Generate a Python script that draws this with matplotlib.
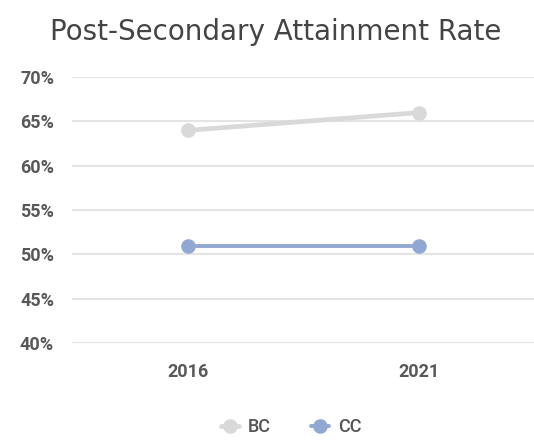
import matplotlib
matplotlib.use("Agg")
import matplotlib.pyplot as plt
from matplotlib.ticker import FuncFormatter

years = ["2016", "2021"]
bc_rate = [64, 66]
cc_rate = [51, 51]
y_ticks = [40, 45, 50, 55, 60, 65, 70]

fig = plt.figure(figsize=(5.34, 4.41), dpi=100)
ax = fig.add_axes([0.135, 0.222, 0.865, 0.603])

x = list(range(len(years)))
ax.plot(x, bc_rate, color="#d9d9d9", lw=3.4, marker="o", ms=9.5, label="BC",
        solid_capstyle="round", zorder=3)
ax.plot(x, cc_rate, color="#90a8d2", lw=2.8, marker="o", ms=9.5, label="CC",
        solid_capstyle="round", zorder=3)

ax.set_xlim(-0.5, 1.5)
ax.set_ylim(40, 70)
ax.set_yticks(y_ticks)
ax.yaxis.set_major_formatter(FuncFormatter(lambda v, p: f"{v:.0f}%"))
ax.set_xticks(x)
ax.set_xticklabels(years)

ax.grid(axis="y", color="#e4e4e4", lw=1.5)
ax.set_axisbelow(True)
for s in ax.spines.values():
    s.set_visible(False)
ax.tick_params(axis="both", length=0, labelsize=13, labelcolor="#585858")
ax.tick_params(axis="y", pad=13)
ax.tick_params(axis="x", pad=14)
for lab in ax.get_xticklabels() + ax.get_yticklabels():
    lab.set_fontfamily("Roboto")
    lab.set_fontweight("bold")

fig.text(0.517, 0.927, "Post-Secondary Attainment Rate", ha="center", va="center",
         fontsize=20, color="#444444", family="DejaVu Sans")

leg = fig.legend(loc="center", bbox_to_anchor=(0.545, 0.032), ncol=2, frameon=False,
                 handlelength=1.0, handletextpad=0.5, columnspacing=2.2,
                 prop={"family": "Roboto", "size": 13, "weight": "medium"})
for t in leg.get_texts():
    t.set_color("#555555")

fig.savefig("out.png", dpi=100)
